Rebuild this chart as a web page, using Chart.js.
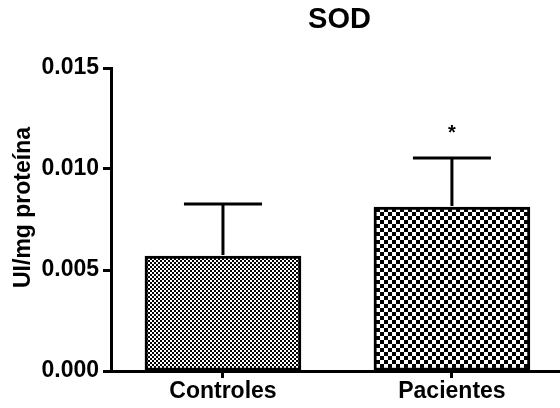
<!DOCTYPE html>
<html>
<head>
<meta charset="utf-8">
<script src="https://cdn.jsdelivr.net/npm/chart.js@4"></script>
<style>
  html, body { margin: 0; padding: 0; background: #fff; }
  #wrap { width: 560px; height: 408px; }
</style>
</head>
<body>
<div id="wrap"><canvas id="c" width="560" height="408"></canvas></div>
<script>
// SOD activity, mean + SD, controls vs patients
const categories = ["Controles", "Pacientes"];
const means = [0.00569, 0.00812];
const sdUp = [0.00258, 0.00242];
const marks = ["", "*"];
const yTicks = [0, 0.005, 0.01, 0.015];
const chartTitle = "SOD";
const yTitle = "UI/mg proteína";

const FONT = "'Liberation Sans', Arial, Helvetica, sans-serif";

// checkerboard fills; cell size in px
function checker(cell) {
  const c = document.createElement("canvas");
  c.width = c.height = cell * 2;
  const g = c.getContext("2d");
  g.fillStyle = "#fff";
  g.fillRect(0, 0, cell * 2, cell * 2);
  g.fillStyle = "#000";
  g.fillRect(0, 0, cell, cell);
  g.fillRect(cell, cell, cell, cell);
  return g.createPattern(c, "repeat");
}

const errorBars = {
  id: "errorBars",
  afterDatasetsDraw(chart) {
    const ctx = chart.ctx;
    const y = chart.scales.y;
    const meta = chart.getDatasetMeta(0);
    ctx.save();
    ctx.strokeStyle = "#000";
    ctx.lineWidth = 3;
    meta.data.forEach((bar, i) => {
      const top = y.getPixelForValue(means[i] + sdUp[i]);
      const half = bar.width / 4;
      ctx.beginPath();
      ctx.moveTo(bar.x, bar.y - 1);
      ctx.lineTo(bar.x, top);
      ctx.moveTo(bar.x - half, top);
      ctx.lineTo(bar.x + half, top);
      ctx.stroke();
      if (marks[i]) {
        ctx.fillStyle = "#000";
        ctx.font = "bold 20px " + FONT;
        ctx.textAlign = "center";
        ctx.textBaseline = "middle";
        ctx.fillText(marks[i], bar.x, top - 25);
      }
    });
    ctx.restore();
  },
};

// titles placed like the original: main title over the plot area, y title a bit above centre
const titles = {
  id: "titles",
  afterDraw(chart) {
    const ctx = chart.ctx;
    const a = chart.chartArea;
    ctx.save();
    ctx.fillStyle = "#000";
    ctx.textAlign = "center";
    ctx.textBaseline = "middle";
    ctx.font = "bold 29px " + FONT;
    ctx.fillText(chartTitle, (a.left + a.right) / 2 + 4, 20);
    ctx.translate(24, (a.top + a.bottom) / 2 - 12);
    ctx.rotate(-Math.PI / 2);
    ctx.font = "bold 23px " + FONT;
    ctx.fillText(yTitle, 0, 0);
    ctx.restore();
  },
};

new Chart(document.getElementById("c"), {
  type: "bar",
  data: {
    datasets: [{
      data: means.map((v, i) => ({ x: i, y: v })),
      backgroundColor: [checker(2), checker(4)],
      borderColor: "#000",
      borderWidth: 3,
      borderSkipped: false,
      barThickness: 156,
    }],
  },
  options: {
    responsive: false,
    animation: false,
    layout: { padding: { top: 68, left: 0, right: 0, bottom: 0 } },
    plugins: {
      legend: { display: false },
      tooltip: { enabled: false },
      title: { display: false },
    },
    scales: {
      x: {
        type: "linear",
        offset: false,
        min: -0.489, max: 1.472,
        afterBuildTicks(s) { s.ticks = categories.map((c, i) => ({ value: i })); },
        grid: { offset: false, drawOnChartArea: false, tickLength: 7, tickWidth: 3, tickColor: "#000" },
        border: { color: "#000", width: 3 },
        ticks: {
          color: "#000", padding: 0, maxRotation: 0, autoSkip: false,
          font: { family: FONT, size: 23, weight: "bold" },
          callback: (v) => categories[v],
        },
        afterFit(s) { s.height = 37; },
      },
      y: {
        min: 0, max: 0.015,
        afterBuildTicks(s) { s.ticks = yTicks.map((v) => ({ value: v })); },
        grid: { drawOnChartArea: false, tickLength: 8, tickWidth: 3, tickColor: "#000" },
        border: { color: "#000", width: 3 },
        ticks: {
          color: "#000", padding: 4,
          font: { family: FONT, size: 23, weight: "bold" },
          callback: (v) => v.toFixed(3),
        },
        afterFit(s) { s.width = 111; },
      },
    },
  },
  plugins: [errorBars, titles],
});
</script>
</body>
</html>
